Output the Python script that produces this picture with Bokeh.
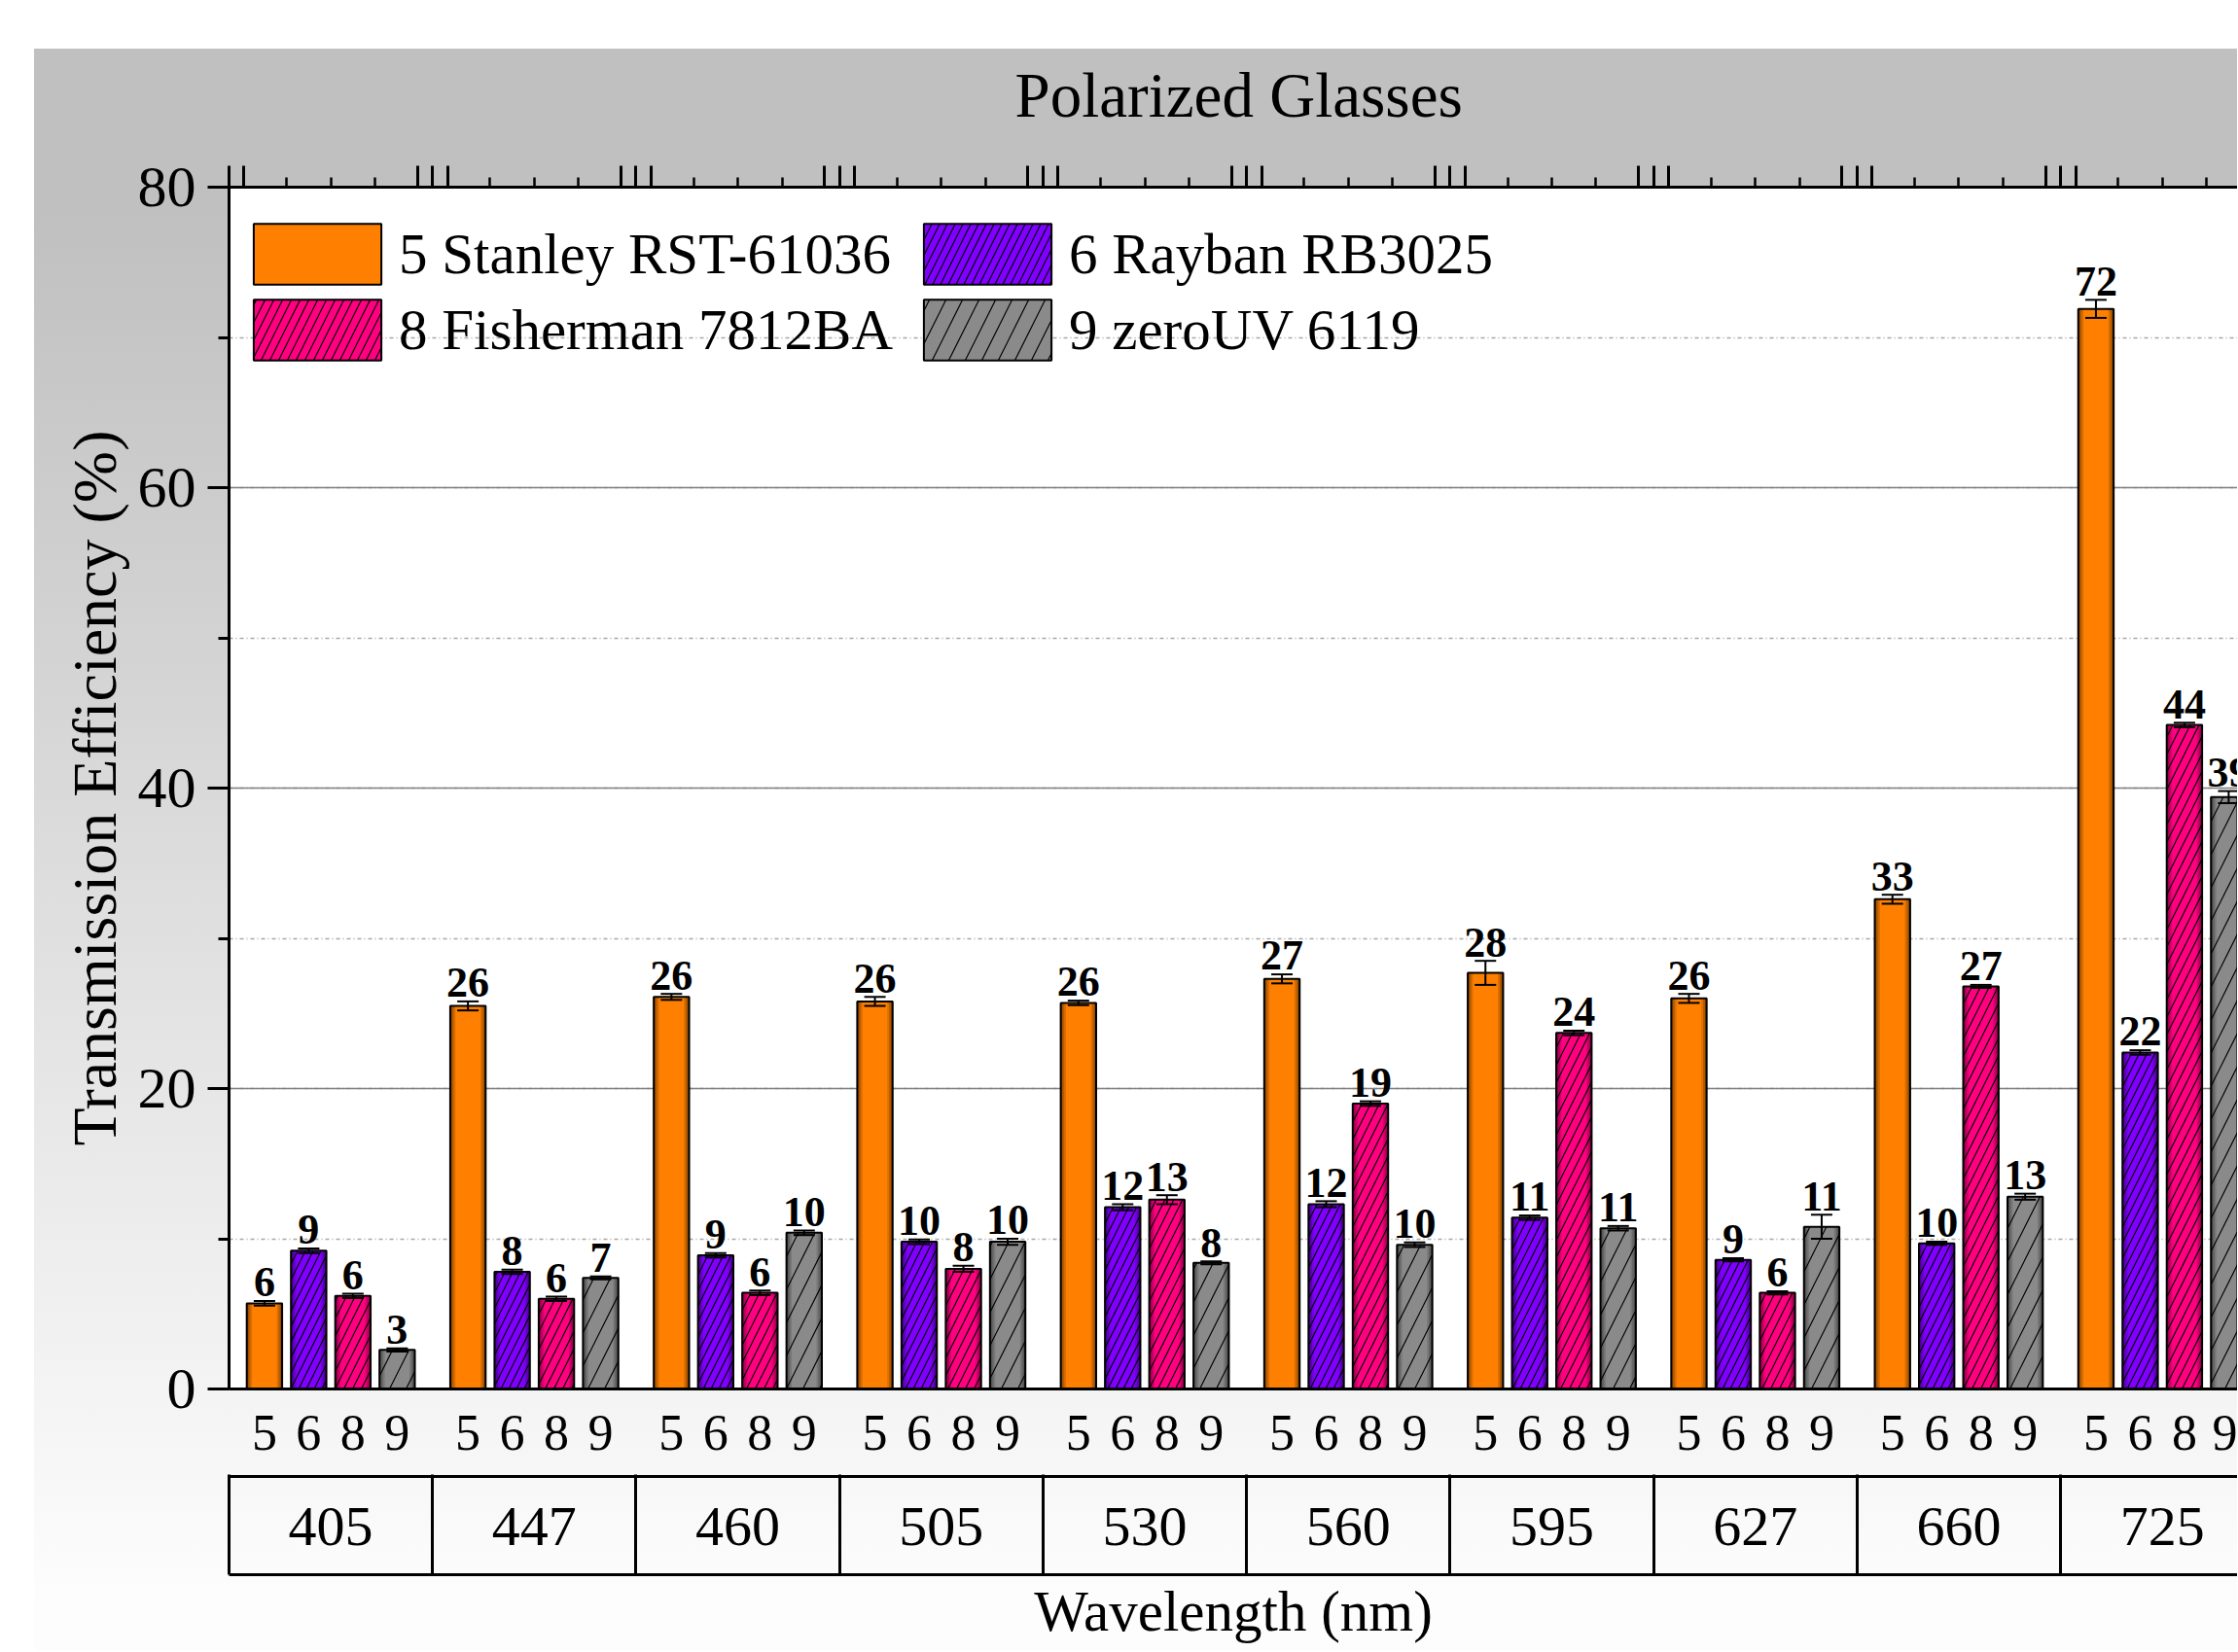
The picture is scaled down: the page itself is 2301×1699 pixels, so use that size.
from bokeh.plotting import figure
from bokeh.models import (ColumnDataSource, Range1d, LinearAxis, FixedTicker,
                          SingleIntervalTicker, Legend, LegendItem, Whisker, TeeHead,
                          CustomLabelingPolicy)
from bokeh.core.properties import value
from bokeh.embed import file_html
from bokeh.resources import INLINE

# ---------------- data ----------------
wavelengths = ["405", "447", "460", "505", "530", "560", "595", "627", "660", "725"]
series_ids = ["5", "6", "8", "9"]
series_names = ["5 Stanley RST-61036", "6 Rayban RB3025", "8 Fisherman 7812BA", "9 zeroUV 6119"]

stanley = [5.7, 25.5, 26.1, 25.8, 25.7, 27.3, 27.7, 26.0, 32.6, 71.9]
rayban = [9.2, 7.8, 8.9, 9.8, 12.1, 12.3, 11.4, 8.6, 9.7, 22.4]
fisherman = [6.2, 6.0, 6.4, 8.0, 12.6, 19.0, 23.7, 6.4, 26.8, 44.2]
zerouv = [2.6, 7.4, 10.4, 9.8, 8.4, 9.6, 10.7, 10.8, 12.8, 39.4]

stanley_err = [0.15, 0.3, 0.2, 0.3, 0.15, 0.3, 0.8, 0.3, 0.3, 0.6]
rayban_err = [0.15, 0.15, 0.15, 0.15, 0.2, 0.2, 0.15, 0.1, 0.1, 0.15]
fisherman_err = [0.15, 0.15, 0.15, 0.2, 0.3, 0.15, 0.15, 0.1, 0.1, 0.15]
zerouv_err = [0.1, 0.1, 0.15, 0.2, 0.1, 0.15, 0.15, 0.8, 0.2, 0.4]

series_values = [stanley, rayban, fisherman, zerouv]
series_errors = [stanley_err, rayban_err, fisherman_err, zerouv_err]

# ---------------- styles ----------------
colors = ["#ff8000", "#8000ff", "#ff0080", "#8a8a8a"]
hatches = [None, "/", "/", "/"]
hatch_scales = [12, 16, 18, 34]
FONT = "Liberation Serif"

GROUP = 23      # width of one wavelength group (x units)
STEP = 5        # distance between bars
FIRST = 4       # first bar offset within a group
BAR_W = 4

def shade(hexc, f):
    r, g, b = int(hexc[1:3], 16), int(hexc[3:5], 16), int(hexc[5:7], 16)
    return "#%02x%02x%02x" % (int(r * f), int(g * f), int(b * f))

no_labels = CustomLabelingPolicy(code="""
const keep = [];
for (const i of indices) keep.push(i);
for (const i of keep) indices.unset(i);
return indices;
""")

W, H = 2300, 1698
p = figure(width=W, height=H, x_range=Range1d(0, 227.0), y_range=Range1d(0, 80),
           output_backend="svg", toolbar_location=None,
           min_border_left=235, min_border_right=0, min_border_top=192, min_border_bottom=270,
           title="Polarized Glasses")

p.background_fill_color = "white"
p.border_fill_alpha = 0
p.outline_line_color = None
p.styles = {"background": "linear-gradient(to right, #ffffff 35px, rgba(255,255,255,0) 35px), "
                          "linear-gradient(to bottom, #ffffff 0px, #ffffff 50px, #c0c0c0 50px, "
                          "#c0c0c0 220px, #fdfdfd 1650px)"}

p.title.text_font = FONT
p.title.text_font_size = "65px"
p.title.text_font_style = "normal"
p.title.text_color = "black"
p.title.align = "left"
p.title.offset = 808
p.title.standoff = 51

# ---------------- bars ----------------
legend_items = []
bar_positions = []
bar_overrides = {}
for j, (vals, errs) in enumerate(zip(series_values, series_errors)):
    xs = [g * GROUP + FIRST + j * STEP for g in range(len(wavelengths))]
    for x in xs:
        bar_positions.append(x)
        bar_overrides[x] = series_ids[j]
    src = ColumnDataSource(dict(x=xs, top=vals,
                                upper=[v + e for v, e in zip(vals, errs)],
                                lower=[v - e for v, e in zip(vals, errs)],
                                ly=[v + e + 0.3 for v, e in zip(vals, errs)],
                                label=[str(int(round(v))) for v in vals]))
    main = None
    for wf, f in [(1.0, 0.55), (0.9, 0.72), (0.8, 0.87), (0.7, 1.0)]:
        main = p.vbar(x="x", top="top", bottom=0, width=BAR_W * wf, source=src,
                      fill_color=shade(colors[j], f), line_color=None)
    hatch_kw = {}
    if hatches[j]:
        hatch_kw = dict(hatch_pattern=hatches[j], hatch_color="black",
                        hatch_scale=hatch_scales[j], hatch_weight=1.2)
    rh = p.vbar(x="x", top="top", bottom=0, width=BAR_W, source=src,
                fill_alpha=0, line_color="black", line_width=2, **hatch_kw)
    legend_items.append(LegendItem(label=series_names[j], renderers=[main, rh]))

    wh = Whisker(base="x", upper="upper", lower="lower", source=src, dimension="height",
                 line_color="black", line_width=2, level="overlay",
                 upper_head=TeeHead(size=22, line_width=2, line_color="black"),
                 lower_head=TeeHead(size=22, line_width=2, line_color="black"))
    p.add_layout(wh)

    p.text(x="x", y="ly", text="label", source=src, text_font=value(FONT),
           text_font_style="bold", text_font_size="44px", text_align="center",
           text_baseline="bottom", text_color="black")

# ---------------- axes ----------------
n = len(wavelengths)
boundaries = [g * GROUP for g in range(n + 1)]
centers = [g * GROUP + GROUP / 2 for g in range(n)]

xa = p.xaxis[0]
xa.ticker = FixedTicker(ticks=bar_positions)
xa.major_label_overrides = bar_overrides
xa.major_tick_out = 0
xa.major_tick_in = 0
xa.minor_tick_out = 0
xa.minor_tick_in = 0
xa.axis_line_width = 3
xa.axis_line_color = "black"
xa.major_label_text_font = FONT
xa.major_label_text_font_size = "52px"
xa.major_label_text_color = "black"
xa.major_label_standoff = 27
xa.axis_label = "."
xa.axis_label_text_font_size = "20px"
xa.axis_label_text_alpha = 0
xa.axis_label_standoff = 8

ya = p.yaxis[0]
ya.ticker = SingleIntervalTicker(interval=20, num_minor_ticks=2)
ya.major_tick_out = 22
ya.major_tick_in = 0
ya.minor_tick_out = 11
ya.minor_tick_in = 0
ya.major_tick_line_width = 3
ya.minor_tick_line_width = 3
ya.axis_line_width = 3
ya.axis_line_color = "black"
ya.major_label_text_font = FONT
ya.major_label_text_font_size = "60px"
ya.major_label_text_color = "black"
ya.major_label_standoff = 12
ya.axis_label = "Transmission Efficiency (%)"
ya.axis_label_text_font = FONT
ya.axis_label_text_font_size = "64px"
ya.axis_label_text_font_style = "normal"
ya.axis_label_text_color = "black"
ya.axis_label_standoff = 6

p.xgrid.visible = False
p.ygrid.ticker = ya.ticker
p.ygrid.grid_line_color = "#808080"
p.ygrid.grid_line_width = 1.5
p.ygrid.minor_grid_line_color = "#a8a8a8"
p.ygrid.minor_grid_line_width = 1.5
p.ygrid.minor_grid_line_dash = "4 3 1 3"

top_major = []
for b in boundaries:
    for d in (-1.7, 0, 1.7):
        if b + d >= 0:
            top_major.append(b + d)
top_minor = [b + d for b in boundaries for d in (6.5, 11.5, 16.5)]
top = LinearAxis(ticker=FixedTicker(ticks=top_major, minor_ticks=top_minor),
                 major_tick_out=22, major_tick_in=0, minor_tick_out=10, minor_tick_in=0,
                 major_tick_line_width=3, minor_tick_line_width=2.5, axis_line_width=3,
                 major_label_text_font_size="10px", major_label_standoff=0,
                 major_label_policy=no_labels)
p.add_layout(top, "above")

grp = LinearAxis(ticker=FixedTicker(ticks=centers),
                 major_label_overrides={c: w for c, w in zip(centers, wavelengths)},
                 major_tick_out=0, major_tick_in=0, minor_tick_out=0, minor_tick_in=0,
                 axis_line_width=3, major_label_text_font=FONT,
                 major_label_text_font_size="58px", major_label_text_color="black",
                 major_label_standoff=32,
                 axis_label=".", axis_label_text_font_size="20px", axis_label_text_alpha=0,
                 axis_label_standoff=11)
p.add_layout(grp, "below")

box = LinearAxis(ticker=FixedTicker(ticks=boundaries),
                 major_tick_out=0, major_tick_in=103, minor_tick_out=0, minor_tick_in=0,
                 major_tick_line_width=3, axis_line_width=3,
                 major_label_text_font_size="2px", major_label_standoff=0,
                 major_label_policy=no_labels,
                 axis_label="Wavelength (nm)", axis_label_text_font=FONT,
                 axis_label_text_font_size="59px", axis_label_text_font_style="normal",
                 axis_label_text_color="black", axis_label_standoff=0)
p.add_layout(box, "below")

# ---------------- legend ----------------
legend = Legend(items=legend_items, ncols=2, orientation="horizontal",
                location=(9, 1050), glyph_width=164, glyph_height=78,
                label_standoff=2, spacing=0, padding=0, margin=0, label_width=523,
                background_fill_alpha=0, border_line_alpha=0,
                label_text_font=FONT, label_text_font_size="59px",
                label_text_color="black", label_height=69)
p.add_layout(legend)

open("out.html", "w").write(file_html(p, INLINE))
